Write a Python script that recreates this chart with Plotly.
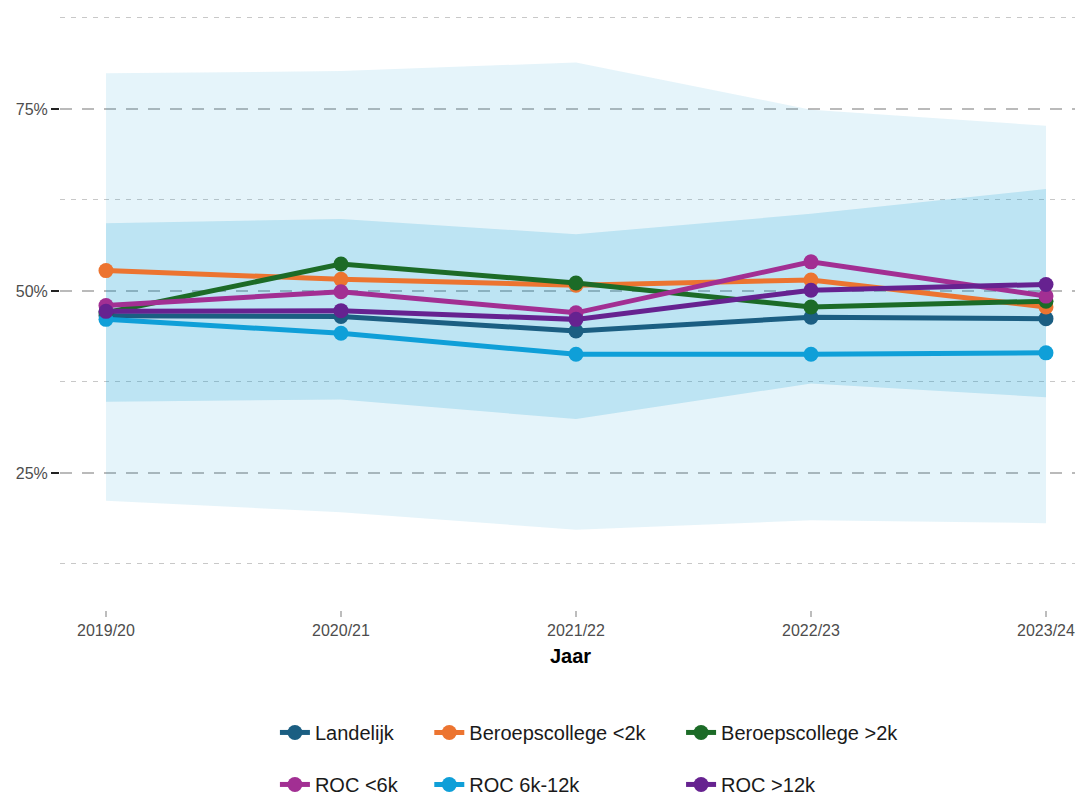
import plotly.graph_objects as go

years = ["2019/20", "2020/21", "2021/22", "2022/23", "2023/24"]

outer_low = [21.2, 19.6, 17.2, 18.5, 18.1]
outer_high = [79.9, 80.2, 81.4, 74.9, 72.7]
inner_low = [34.8, 35.1, 32.4, 37.3, 35.4]
inner_high = [59.3, 59.9, 57.8, 60.6, 64.0]

series_names = ["Landelijk", "Beroepscollege <2k", "Beroepscollege >2k",
                "ROC <6k", "ROC 6k-12k", "ROC >12k"]
landelijk = [46.6, 46.5, 44.5, 46.4, 46.2]
bc_small = [52.8, 51.6, 50.8, 51.5, 47.8]
bc_large = [47.0, 53.7, 51.1, 47.8, 48.6]
roc_small = [48.0, 49.9, 47.0, 54.0, 49.3]
roc_mid = [46.1, 44.2, 41.3, 41.3, 41.5]
roc_large = [47.2, 47.3, 46.1, 50.1, 50.9]
series_values = [landelijk, bc_small, bc_large, roc_small, roc_mid, roc_large]
series_colors = ["#1B5E82", "#EC7430", "#1C6B27", "#A22F93", "#0F9FD8", "#662290"]
legend_slots = ["legend", "legend2", "legend3", "legend", "legend2", "legend3"]

y_ticks = [25, 50, 75]
y_tick_text = ["25%", "50%", "75%"]
y_minor = [12.5, 37.5, 62.5, 87.5]

fig = go.Figure()

band_color = "15,158,213"
fig.add_trace(go.Scatter(x=years, y=outer_low, mode="lines", line=dict(width=0),
                         showlegend=False, hoverinfo="skip"))
fig.add_trace(go.Scatter(x=years, y=outer_high, mode="lines", line=dict(width=0),
                         fill="tonexty", fillcolor=f"rgba({band_color},0.11)",
                         showlegend=False, hoverinfo="skip"))
fig.add_trace(go.Scatter(x=years, y=inner_low, mode="lines", line=dict(width=0),
                         showlegend=False, hoverinfo="skip"))
fig.add_trace(go.Scatter(x=years, y=inner_high, mode="lines", line=dict(width=0),
                         fill="tonexty", fillcolor=f"rgba({band_color},0.19)",
                         showlegend=False, hoverinfo="skip"))

for name, vals, col, lg in zip(series_names, series_values, series_colors, legend_slots):
    fig.add_trace(go.Scatter(
        x=years, y=vals, mode="lines+markers", name=name,
        line=dict(color=col, width=5),
        marker=dict(color=col, size=15),
        legend=lg, legendgroup=name,
    ))

font_family = "Liberation Sans, Arial, sans-serif"
legend_common = dict(
    orientation="v", xref="paper", yref="paper", y=-0.1710, yanchor="top",
    xanchor="left", font=dict(size=20, color="#1A1A1A", family=font_family),
    tracegroupgap=23, bgcolor="rgba(0,0,0,0)",
)

fig.update_layout(
    width=1075, height=789,
    paper_bgcolor="white", plot_bgcolor="white",
    margin=dict(l=52, r=2, t=0, b=187, autoexpand=False),
    font=dict(family=font_family),
    showlegend=True,
    legend=dict(x=0.2105, **legend_common),
    legend2=dict(x=0.3617, **legend_common),
    legend3=dict(x=0.6083, **legend_common),
    xaxis=dict(
        type="category", range=[-0.1957, 4.149], automargin=False,
        showgrid=False, zeroline=False, showline=False,
        ticks="outside", ticklen=6, tickwidth=1.5, tickcolor="#BDBDBD",
        tickfont=dict(size=16, color="#4D4D4D"),
        title=dict(text="<b>Jaar</b>", font=dict(size=20, color="#000000"), standoff=10),
    ),
    yaxis=dict(
        range=[6.18, 88.87], automargin=False,
        tickvals=y_ticks, ticktext=y_tick_text,
        ticks="outside", ticklen=8, tickwidth=2, tickcolor="#222222",
        tickfont=dict(size=16, color="#4D4D4D"),
        showgrid=True, gridcolor="#BABABA", gridwidth=2, griddash="12px,10px",
        zeroline=False, showline=False,
        minor=dict(tickvals=y_minor, showgrid=True,
                   gridcolor="#C8C8C8", gridwidth=1, griddash="5px,6px", ticks=""),
    ),
)

fig.write_html("out.html")
